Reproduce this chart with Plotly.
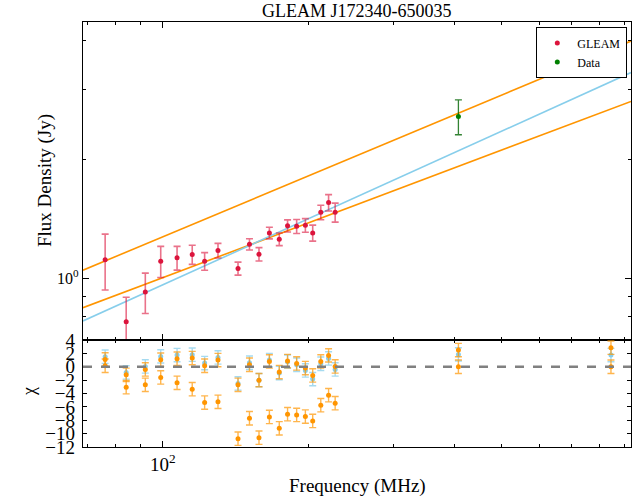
import numpy as np
import plotly.graph_objects as go

# GLEAM flux densities (MHz, Jy)
freq_gleam = [76, 84, 92, 99, 107, 115, 122, 130, 143, 151,
              158, 166, 174, 181, 189, 197, 204, 212, 220, 227]
flux_gleam = [1.115, 0.777, 0.924, 1.106, 1.128, 1.150, 1.106, 1.177, 1.060, 1.221,
              1.152, 1.304, 1.257, 1.359, 1.355, 1.363, 1.304, 1.470, 1.556, 1.470]
err_gleam = [0.18, 0.12, 0.108, 0.10, 0.078, 0.064, 0.057, 0.05, 0.04, 0.04,
             0.045, 0.044, 0.046, 0.048, 0.055, 0.054, 0.061, 0.062, 0.074, 0.081]

# Other catalogue measurements
freq_data = [408, 843]
flux_data = [2.57, 3.70]
err_data = [0.26, 0.35]

# Power-law models: flux at 100 MHz and spectral index
fit_blue = (0.964, 0.555)
fit_orange_hi = (1.275, 0.512)
fit_orange_lo = (1.005, 0.461)

# Normalised residuals for every measurement (GLEAM then 408, 843 MHz)
freq_all = freq_gleam + freq_data
chi_blue = [1.5, -0.85, 0.05, 1.55, 1.75, 1.8, 0.55, 1.4, -2.5, 0.6,
            -2.0, 1.0, -0.95, 0.75, 0.3, -0.55, -1.85, 0.45, 1.25, -0.4,
            1.85, 1.75]
chi_orange_lo = [1.1, -1.2, -0.4, 1.05, 1.2, 1.3, 0.15, 1.0, -2.7, 0.3,
                 -2.0, 0.8, -0.8, 0.85, 0.5, -0.2, -1.3, 0.8, 1.7, 0.05,
                 2.5, 2.85]
chi_orange_hi = [0.15, -3.05, -2.7, -1.6, -2.4, -3.35, -5.35, -5.25, -10.75, -7.7,
                 -10.6, -7.5, -9.2, -7.1, -7.2, -7.45, -8.1, -5.75, -4.25, -5.45,
                 0.0, 0.0]

x_lo, x_hi = 68.4, 927.3
y_lo, y_hi = 0.699, 4.455
chi_ticks = list(range(-12, 5, 2))

FONT = "Liberation Serif, Times New Roman, serif"
ORANGE = "#FF9500"
SKY = "#87CEEB"

line_freq = np.geomspace(x_lo, x_hi, 50)


def power_law(params, f):
    s100, alpha = params
    return s100 * (np.asarray(f) / 100.0) ** alpha


fig = go.Figure()

for params, col in [(fit_orange_hi, ORANGE), (fit_orange_lo, ORANGE), (fit_blue, SKY)]:
    fig.add_trace(go.Scatter(
        x=line_freq, y=power_law(params, line_freq), mode="lines",
        line=dict(color=col, width=1.6), showlegend=False, hoverinfo="skip",
        xaxis="x", yaxis="y"))

fig.add_trace(go.Scatter(
    x=freq_gleam, y=flux_gleam, mode="markers", name="GLEAM",
    marker=dict(color="crimson", size=5),
    error_y=dict(type="data", array=err_gleam, color="rgba(220,20,60,0.6)",
                 thickness=1.6, width=3.5),
    xaxis="x", yaxis="y"))
fig.add_trace(go.Scatter(
    x=freq_data, y=flux_data, mode="markers", name="Data",
    marker=dict(color="green", size=5),
    error_y=dict(type="data", array=err_data, color="rgba(0,100,0,0.8)",
                 thickness=1.3, width=3.5),
    xaxis="x", yaxis="y"))

ones = [1.0] * len(freq_all)
for chi, col, ecol in [(chi_blue, SKY, "rgba(135,206,235,0.75)"),
                       (chi_orange_lo, ORANGE, "rgba(255,149,0,0.7)"),
                       (chi_orange_hi, ORANGE, "rgba(255,149,0,0.7)")]:
    fig.add_trace(go.Scatter(
        x=freq_all, y=chi, mode="markers", showlegend=False,
        marker=dict(color=col, size=5),
        error_y=dict(type="data", array=ones, color=ecol, thickness=1.4, width=3.5),
        xaxis="x2", yaxis="y2"))

split = (447 - 340) / 425.0

axis_common = dict(showline=True, linecolor="black", linewidth=1.3, mirror="ticks",
                   ticks="inside", tickcolor="black", showgrid=False, zeroline=False)
minor_x = dict(tickvals=[70, 80, 90, 200, 300, 400, 500, 600, 700, 800, 900],
               ticks="inside", ticklen=3, tickcolor="black", showgrid=False)

fig.update_layout(
    width=639, height=502,
    margin=dict(l=83, r=8, t=22, b=55),
    plot_bgcolor="white", paper_bgcolor="white",
    font=dict(family=FONT, color="black"),
    xaxis=dict(type="log", range=[np.log10(x_lo), np.log10(x_hi)], domain=[0, 1],
               anchor="y", tickvals=[100], ticktext=[""], ticklen=6,
               minor=minor_x, **axis_common),
    yaxis=dict(type="log", range=[np.log10(y_lo), np.log10(y_hi)], domain=[split, 1],
               anchor="x", tickvals=[1], ticktext=["10<sup>0</sup>"], ticklen=6,
               tickfont=dict(family=FONT, size=16, color="black"),
               minor=dict(tickvals=[0.8, 0.9, 2, 3, 4], ticks="inside", ticklen=3,
                          tickcolor="black", showgrid=False),
               **axis_common),
    xaxis2=dict(type="log", range=[np.log10(x_lo), np.log10(x_hi)], domain=[0, 1],
                anchor="y2", tickvals=[100], ticktext=["10<sup>2</sup>"], ticklen=6,
                tickfont=dict(family=FONT, size=19, color="black"),
                minor=minor_x, **axis_common),
    yaxis2=dict(range=[-12, 4], domain=[0, split], anchor="x2",
                tickvals=chi_ticks,
                ticktext=[str(v).replace("-", "\u2212") for v in chi_ticks],
                tickfont=dict(family=FONT, size=19, color="black"),
                ticklabelstandoff=3,
                ticklen=4, **axis_common),
    legend=dict(x=0.9927, y=0.988, xanchor="right", yanchor="top",
                bgcolor="white", bordercolor="black", borderwidth=1.3,
                font=dict(family=FONT, size=12, color="black"),
                tracegroupgap=0, itemwidth=30),
    showlegend=True,
)

# Zero line of the residual panel
fig.add_shape(type="line", xref="x2 domain", yref="y2", x0=0, x1=1, y0=0, y1=0,
              line=dict(color="gray", width=2.5, dash="dash"))

fig.add_annotation(text="GLEAM J172340-650035", xref="paper", yref="paper",
                   x=0.5, y=(447 - 11) / 425.0, xanchor="center", yanchor="middle",
                   showarrow=False, font=dict(family=FONT, size=18, color="black"))
fig.add_annotation(text="Frequency (MHz)", xref="paper", yref="paper",
                   x=0.5, y=(447 - 486) / 425.0, xanchor="center", yanchor="middle",
                   showarrow=False, font=dict(family=FONT, size=19, color="black"))
fig.add_annotation(text="Flux Density (Jy)", xref="paper", yref="paper",
                   x=(45 - 83) / 548.0, y=(447 - 181) / 425.0,
                   xanchor="center", yanchor="middle", showarrow=False,
                   textangle=-90, font=dict(family=FONT, size=19, color="black"))
fig.add_annotation(text="\u03c7", xref="paper", yref="paper",
                   x=(29 - 83) / 548.0, y=(447 - 392) / 425.0,
                   xanchor="center", yanchor="middle", showarrow=False,
                   textangle=-90, font=dict(family=FONT, size=18, color="black"))

fig.write_html("out.html")
